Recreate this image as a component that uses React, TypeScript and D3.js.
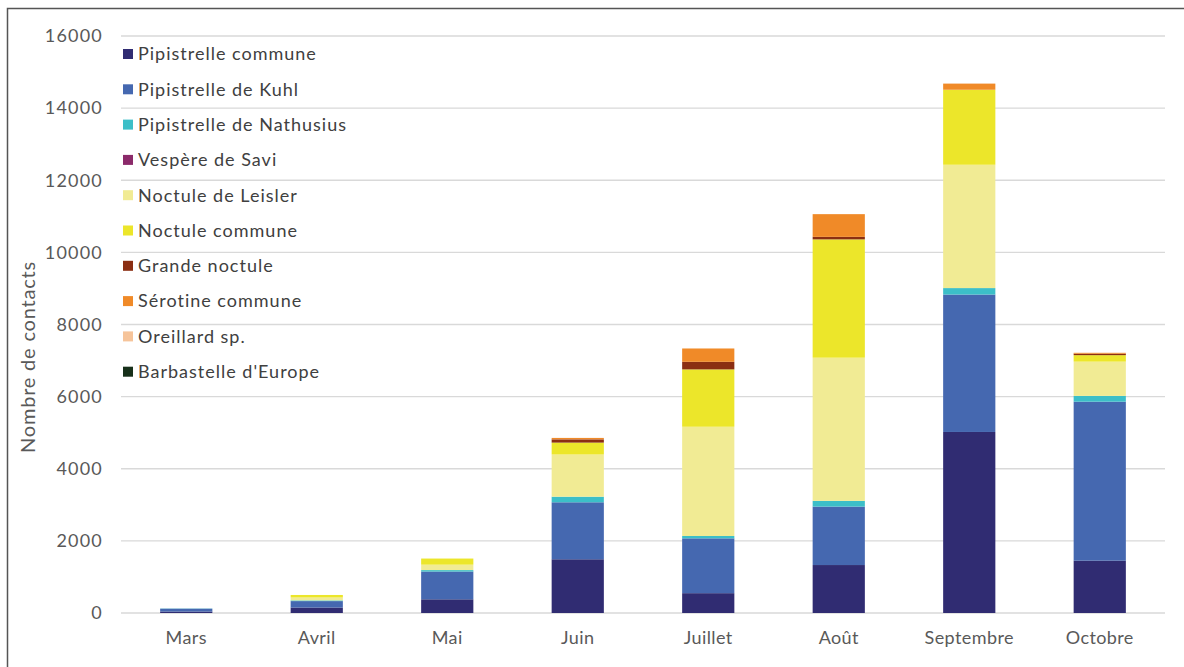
import React from "react";
import * as d3 from "d3";

const months = ["Mars", "Avril", "Mai", "Juin", "Juillet", "Août", "Septembre", "Octobre"];
const species = [
  "Pipistrelle commune",
  "Pipistrelle de Kuhl",
  "Pipistrelle de Nathusius",
  "Vespère de Savi",
  "Noctule de Leisler",
  "Noctule commune",
  "Grande noctule",
  "Sérotine commune",
  "Oreillard sp.",
  "Barbastelle d'Europe",
];
const colors = ["#302c72", "#4568b0", "#3cbfc8", "#8b2a6a", "#f1eb94", "#ece62a", "#8b2e12", "#f08a28", "#f6c49a", "#17301a"];

const pipistrelleCommune = [40, 150, 380, 1490, 550, 1330, 5020, 1450];
const pipistrelleKuhl = [80, 180, 770, 1580, 1520, 1620, 3810, 4410];
const pipistrelleNathusius = [5, 20, 40, 155, 65, 160, 180, 160];
const vespereSavi = [0, 0, 0, 0, 0, 0, 0, 0];
const noctuleLeisler = [0, 80, 150, 1170, 3030, 3970, 3420, 950];
const noctuleCommune = [0, 70, 170, 330, 1590, 3280, 2080, 180];
const grandeNoctule = [0, 0, 0, 90, 210, 70, 0, 40];
const serotineCommune = [0, 0, 0, 40, 370, 630, 170, 25];
const oreillard = [0, 0, 0, 0, 0, 0, 0, 0];
const barbastelle = [0, 0, 0, 0, 0, 0, 0, 0];

const seriesValues = [
  pipistrelleCommune,
  pipistrelleKuhl,
  pipistrelleNathusius,
  vespereSavi,
  noctuleLeisler,
  noctuleCommune,
  grandeNoctule,
  serotineCommune,
  oreillard,
  barbastelle,
];
const yTicks = [0, 2000, 4000, 6000, 8000, 10000, 12000, 14000, 16000];

const W = 1184;
const H = 667;
const plot = { left: 121, right: 1165, top: 36, bottom: 613 };
const FONT = "Lato, 'Open Sans', sans-serif";

export default function App() {
  const rows = months.map((m, i) => {
    const r: Record<string, any> = { month: m };
    species.forEach((s, j) => (r[s] = seriesValues[j][i]));
    return r;
  });
  const stacked = d3.stack<any>().keys(species)(rows);
  const x = d3.scaleBand<string>().domain(months).range([plot.left, plot.right]).paddingInner(0.6).paddingOuter(0.3);
  const y = d3.scaleLinear().domain([0, 16000]).range([plot.bottom, plot.top]);

  return (
    <svg width={W} height={H} style={{ position: "absolute", left: 0, top: 0, background: "#fff" }} fontFamily={FONT}>
      <rect x={7.5} y={8.5} width={1190} height={680} fill="#fff" stroke="#555" strokeWidth={1.5} />
      {yTicks.map((t) => (
        <g key={t}>
          <line x1={plot.left} x2={plot.right} y1={y(t)} y2={y(t)} stroke="#d9d9d9" strokeWidth={1.3} />
          <text x={103} y={y(t)} dy="0.35em" textAnchor="end" fontSize={18} letterSpacing={1.2} fill="#595959">
            {t}
          </text>
        </g>
      ))}
      {stacked.map((layer, j) => (
        <g key={species[j]} fill={colors[j]}>
          {layer.map((d, i) => (
            <rect key={i} x={x(months[i])} width={x.bandwidth()} y={y(d[1])} height={Math.max(0, y(d[0]) - y(d[1]))} />
          ))}
        </g>
      ))}
      {months.map((m) => (
        <text key={m} x={(x(m) as number) + x.bandwidth() / 2} y={644} textAnchor="middle" fontSize={18} letterSpacing={0.4} fill="#595959">
          {m}
        </text>
      ))}
      <text transform={`translate(35, ${357}) rotate(-90)`} textAnchor="middle" fontSize={20} letterSpacing={0.8} fill="#595959">
        Nombre de contacts
      </text>
      {species.map((s, j) => (
        <g key={s} transform={`translate(123, ${54 + j * 35.3})`}>
          <rect x={0} y={-5} width={10} height={10} fill={colors[j]} />
          <text x={15} y={0} dy="0.35em" fontSize={18} letterSpacing={1} fill="#404040">
            {s}
          </text>
        </g>
      ))}
    </svg>
  );
}
